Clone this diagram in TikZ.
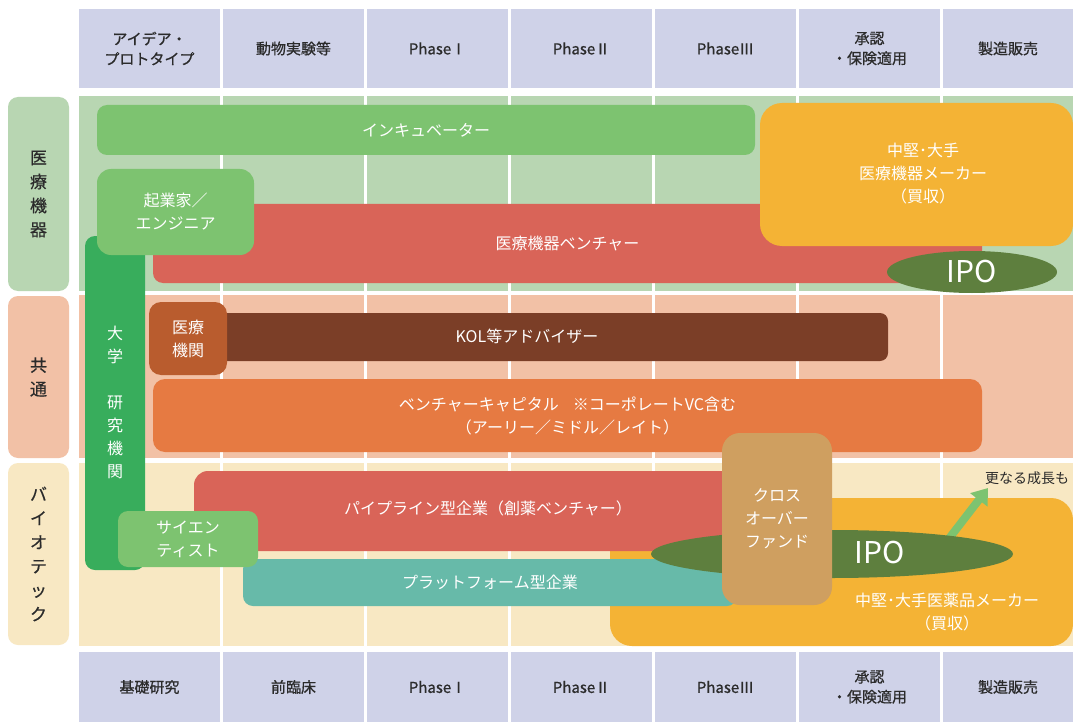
\documentclass[tikz,border=0pt]{standalone}
\usepackage{fontspec}
\setmainfont{Noto Sans CJK JP}
\newfontfamily\hdrfont[FakeBold=0.8]{Noto Sans CJK JP}
\newfontfamily\catfont[FakeBold=0.5]{Noto Sans CJK JP}
\usetikzlibrary{shapes.geometric,arrows.meta}
\definecolor{hdrc}{HTML}{CFD2E8}
\definecolor{bandA}{HTML}{B8D6B2}
\definecolor{bandB}{HTML}{F2C1A6}
\definecolor{bandC}{HTML}{F8E8C3}
\definecolor{lgreen}{HTML}{7DC370}
\definecolor{dgreen}{HTML}{38AD5C}
\definecolor{venred}{HTML}{D96458}
\definecolor{amber}{HTML}{F4B335}
\definecolor{ipog}{HTML}{5E7F3E}
\definecolor{hospc}{HTML}{B95C2E}
\definecolor{kolc}{HTML}{7B3E27}
\definecolor{vcc}{HTML}{E67A42}
\definecolor{tealc}{HTML}{67BAA9}
\definecolor{crossc}{HTML}{CF9F60}
\definecolor{txtc}{HTML}{2B2B2B}
\tikzset{
  hcell/.style={fill=hdrc, inner sep=0pt, text=txtc, align=center, font=\hdrfont\fontsize{15}{20}\selectfont},
  catbox/.style={rounded corners=10pt, inner sep=0pt, minimum width=61pt, text=txtc, align=center, font=\catfont\fontsize{17}{24}\selectfont},
  bx/.style={rounded corners=10pt, inner sep=0pt, text=white, align=center, font=\fontsize{16}{23}\selectfont},
  wtxt/.style={inner sep=0pt, text=white, align=center, font=\fontsize{16}{23}\selectfont},
  ipoe/.style={ellipse, fill=ipog, inner sep=0pt, text=white, font=\fontsize{30}{30}\selectfont},
}
\begin{document}
\begin{tikzpicture}[x=1pt,y=-1pt]
\useasboundingbox (0,0) rectangle (1073,722);
\fill[white] (0,0) rectangle (1073,722);
% header rows
\foreach \c/\w/\t [count=\i] in {149.5/141/{アイデア・\\プロトタイプ},293.5/141/{動物実験等},437.5/141/{PhaseⅠ},581.5/141/{PhaseⅡ},725.5/141/{PhaseⅢ},869.5/141/{承認\\・保険適用},1008/130/{製造販売}}{
  \node[hcell, minimum width=\w pt, minimum height=79pt] (h\i) at (\c,48.5) {\t};
}
\foreach \c/\w/\t [count=\i] in {149.5/141/{基礎研究},293.5/141/{前臨床},437.5/141/{PhaseⅠ},581.5/141/{PhaseⅡ},725.5/141/{PhaseⅢ},869.5/141/{承認\\・保険適用},1008/130/{製造販売}}{
  \node[hcell, minimum width=\w pt, minimum height=70pt] (b\i) at (\c,687) {\t};
}
% band cells
\foreach \xa/\xb in {79/220,223/364,367/508,511/652,655/796,799/940,943/1073}{
  \fill[bandA] (\xa,96) rectangle (\xb,291);
  \fill[bandB] (\xa,295) rectangle (\xb,458);
  \fill[bandC] (\xa,463) rectangle (\xb,646);
}
% category labels
\node[catbox, fill=bandA, minimum height=194pt] (catA) at (38.5,194) {医\\療\\機\\器};
\node[catbox, fill=bandB, minimum height=162pt] (catB) at (38.5,377) {共\\通};
\node[catbox, fill=bandC, minimum height=182pt] (catC) at (38.5,554) {バ\\イ\\オ\\テ\\ッ\\ク};
% medical device band
\node[bx, fill=lgreen, minimum width=658pt, minimum height=50pt] (inc) at (426,130) {インキュベーター};
\node[bx, fill=venred, minimum width=829pt, minimum height=79pt] (mdv) at (567.5,243.5) {医療機器ベンチャー};
\node[bx, rounded corners=22pt, fill=amber, minimum width=313pt, minimum height=143pt] (mdm) at (916.5,174.5) {};
\node[wtxt] (mdmt) at (923,174) {中堅･大手\\医療機器メーカー\\（買収）};
\node[ipoe, minimum width=170pt, minimum height=42pt] (ipo1) at (972,272) {IPO};
% university
\node[bx, fill=dgreen, minimum width=60pt, minimum height=334pt] (univ) at (115,403) {};
\node[wtxt] (univt) at (115,402) {大\\学\\[23pt]研\\究\\機\\関};
\node[bx, rounded corners=14pt, fill=lgreen, minimum width=157pt, minimum height=86pt] (ent) at (175.5,212) {起業家／\\エンジニア};
% common band
\node[bx, rounded corners=8pt, fill=kolc, minimum width=688pt, minimum height=48pt] (kol) at (544,337) {};
\node[wtxt] (kolt) at (527,336) {KOL等アドバイザー};
\node[bx, rounded corners=12pt, fill=hospc, minimum width=78pt, minimum height=73pt] (hosp) at (188,338.5) {医療\\機関};
\node[bx, rounded corners=12pt, fill=vcc, minimum width=829pt, minimum height=73pt] (vc) at (567.5,415.5) {ベンチャーキャピタル\hspace{14pt}※コーポレートVC含む\\（アーリー／ミドル／レイト）};
% biotech band
\node[bx, rounded corners=22pt, fill=amber, minimum width=463pt, minimum height=148pt] (phm) at (841.5,572) {};
\node[wtxt] (phmt) at (947,612) {中堅･大手医薬品メーカー\\（買収）};
\node[bx, rounded corners=14pt, fill=venred, minimum width=566pt, minimum height=80pt] (pipe) at (477,511) {};
\node[wtxt] (pipet) at (488,508) {パイプライン型企業（創薬ベンチャー）};
\node[bx, fill=tealc, minimum width=494pt, minimum height=47pt] (plat) at (490,582.5) {プラットフォーム型企業};
\coordinate (arS) at (944,545);
\coordinate (arE) at (988,488);
\draw[lgreen, line width=8pt, -{Triangle[width=21pt,length=15pt]}] (arS) -- (arE);
\node[ipoe, minimum width=362pt, minimum height=48pt] (ipo2) at (832,554) {};
\node[inner sep=0pt, text=white, font=\fontsize{30}{30}\selectfont] (ipo2t) at (880,552) {IPO};
\node[bx, rounded corners=18pt, fill=crossc, minimum width=110pt, minimum height=172pt] (cross) at (777,519) {クロス\\オーバー\\ファンド};
\node[bx, fill=lgreen, minimum width=140pt, minimum height=56pt] (sci) at (188,539) {サイエン\\ティスト};
\node[inner sep=0pt, text=txtc, font=\fontsize{14}{16}\selectfont] (grow) at (1027,478) {更なる成長も};
\end{tikzpicture}
\end{document}
